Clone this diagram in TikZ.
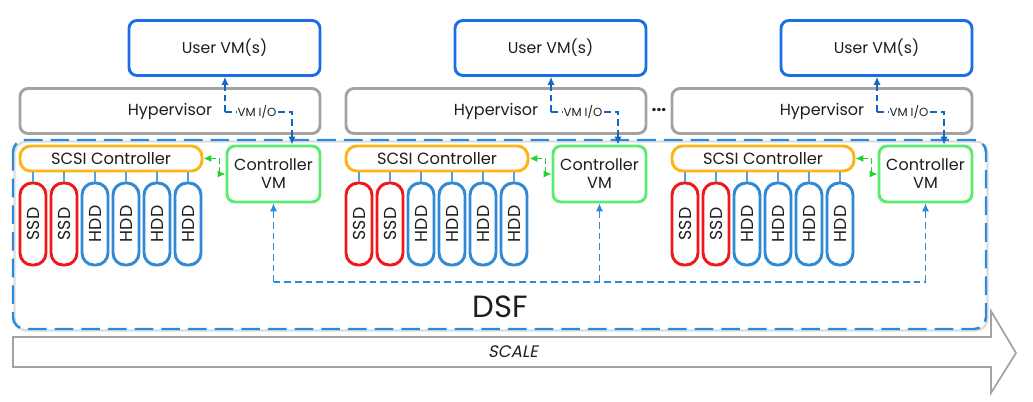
\documentclass[tikz,border=0pt]{standalone}
\usepackage{fontspec}
\setmainfont{Poppins}[AutoFakeSlant=0.2]
\usetikzlibrary{arrows.meta}
\definecolor{uvmblue}{HTML}{1C6EE8}
\definecolor{hypgray}{HTML}{A3A3A3}
\definecolor{dsfblue}{HTML}{2B8AD9}
\definecolor{scsiorange}{HTML}{FDB515}
\definecolor{cvmgreen}{HTML}{5CEB6E}
\definecolor{ssdred}{HTML}{F01818}
\definecolor{hddblue}{HTML}{3189D6}
\definecolor{iocol}{HTML}{1466C4}
\definecolor{txt}{HTML}{1E1E1E}
\definecolor{garrow}{HTML}{22D32F}
\definecolor{shadowgray}{HTML}{DDDDDD}
\definecolor{buslink}{HTML}{5A9FD8}
\tikzset{
  box/.style={draw, line width=2.2pt, fill=white, inner sep=0pt, text=txt},
  uvm/.style={box, draw=uvmblue, rounded corners=6pt, minimum width=191*0.75pt, minimum height=55*0.75pt, font=\fontsize{11.8}{14}\selectfont},
  hyp/.style={box, draw=hypgray, rounded corners=6pt, minimum width=300*0.75pt, minimum height=45*0.75pt, font=\fontsize{12}{14}\selectfont},
  scsi/.style={box, draw=scsiorange, rounded corners=8pt, minimum width=182*0.75pt, minimum height=25*0.75pt, font=\fontsize{12.2}{14}\selectfont},
  cvm/.style={box, draw=cvmgreen, rounded corners=6pt, minimum width=93*0.75pt, minimum height=56*0.75pt, align=center, font=\fontsize{12}{13.5}\selectfont},
  ssd/.style={box, draw=ssdred, rounded corners=9pt, minimum width=26*0.75pt, minimum height=82*0.75pt, font=\fontsize{13}{15}\selectfont},
  hdd/.style={ssd, draw=hddblue},
  dsfbox/.style={draw=dsfblue, line width=1.8pt, rounded corners=9pt, dash pattern=on 14pt off 6pt},
  iolink/.style={draw=iocol, line width=0.9pt, dash pattern=on 5pt off 3pt},
  glink/.style={draw=garrow, line width=1pt, dash pattern=on 4pt off 2.5pt, {Latex[length=6pt,width=5.5pt]}-{Latex[length=6pt,width=5.5pt]}},
  buslinkst/.style={draw=buslink, line width=1.1pt},
  cvmlink/.style={draw=dsfblue, line width=0.9pt, dash pattern=on 5pt off 3pt},
  tip/.style={-{Latex[length=6pt,width=5.5pt]}},
  scalearrow/.style={draw=hypgray, line width=1.3pt, fill=white},
}
\begin{document}
\begin{tikzpicture}[x=0.75pt,y=-0.75pt]
\useasboundingbox (0,0) rectangle (1033,402);
% DSF box with faint shadow
\draw[shadowgray, line width=1.8pt, rounded corners=9pt] (14.5,141.5) rectangle (987.5,330.5);
\draw[dsfbox] (13,140) rectangle (986,329);
\node[font=\fontsize{23}{27}\selectfont, text=txt] (dsf) at (500,307) {DSF};
% Scale arrow
\draw[scalearrow] (13,337) -- (991,337) -- (991,311) -- (1016,353) -- (991,393) -- (991,367) -- (13,367) -- cycle;
\node[font=\fontsize{12.5}{14}\selectfont\itshape, text=txt] (scale) at (513,352) {SCALE};
% ellipsis
\node[font=\fontsize{13}{15}\selectfont\bfseries, text=txt] (dots) at (659,110) {...};
\foreach \i/\dx in {1/0,2/326,3/652}{
  \node[uvm] (u\i) at (224.5+\dx,48) {User VM(s)};
  \node[hyp] (h\i) at (170+\dx,111) {Hypervisor};
  \node[scsi] (s\i) at (111+\dx,158.5) {SCSI Controller};
  \node[cvm] (c\i) at (273.5+\dx,174) {Controller\\VM};
  \node[ssd] (d\i a) at (33+\dx,224) {\rotatebox{90}{SSD}};
  \node[ssd] (d\i b) at (64+\dx,224) {\rotatebox{90}{SSD}};
  \node[hdd] (d\i c) at (95+\dx,224) {\rotatebox{90}{HDD}};
  \node[hdd] (d\i d) at (126+\dx,224) {\rotatebox{90}{HDD}};
  \node[hdd] (d\i e) at (157+\dx,224) {\rotatebox{90}{HDD}};
  \node[hdd] (d\i f) at (188+\dx,224) {\rotatebox{90}{HDD}};
  \foreach \k in {a,b,c,d,e,f}{
    \draw[buslinkst] (s\i.south -| d\i\k.north) -- (d\i\k.north);
  }
  % VM I/O link
  \node[font=\fontsize{8.8}{10}\selectfont, text=txt, inner sep=1pt, fill=white] (io\i) at (257+\dx,112) {VM I/O};
  \coordinate (ioL\i) at (225+\dx,112);
  \coordinate (ioR\i) at (292+\dx,112);
  \draw[iolink, tip] (ioL\i) -- (u\i.south -| ioL\i);
  \draw[iolink] (ioL\i) -- (io\i.west);
  \draw[iolink, tip] (io\i.east) -- (ioR\i) -- (c\i.north -| ioR\i);
  % SCSI <-> CVM
  \draw[glink] (s\i.east) -- ++(16,0) |- (c\i.west);
}
% CVM interconnect
\coordinate (busL) at (273.5,282);
\coordinate (busM) at (599.5,282);
\coordinate (busR) at (925.5,282);
\draw[cvmlink] (busL) -- (busR);
\draw[cvmlink, tip] (busL) -- (c1.south);
\draw[cvmlink, tip] (busM) -- (c2.south);
\draw[cvmlink, tip] (busR) -- (c3.south);
\end{tikzpicture}
\end{document}
